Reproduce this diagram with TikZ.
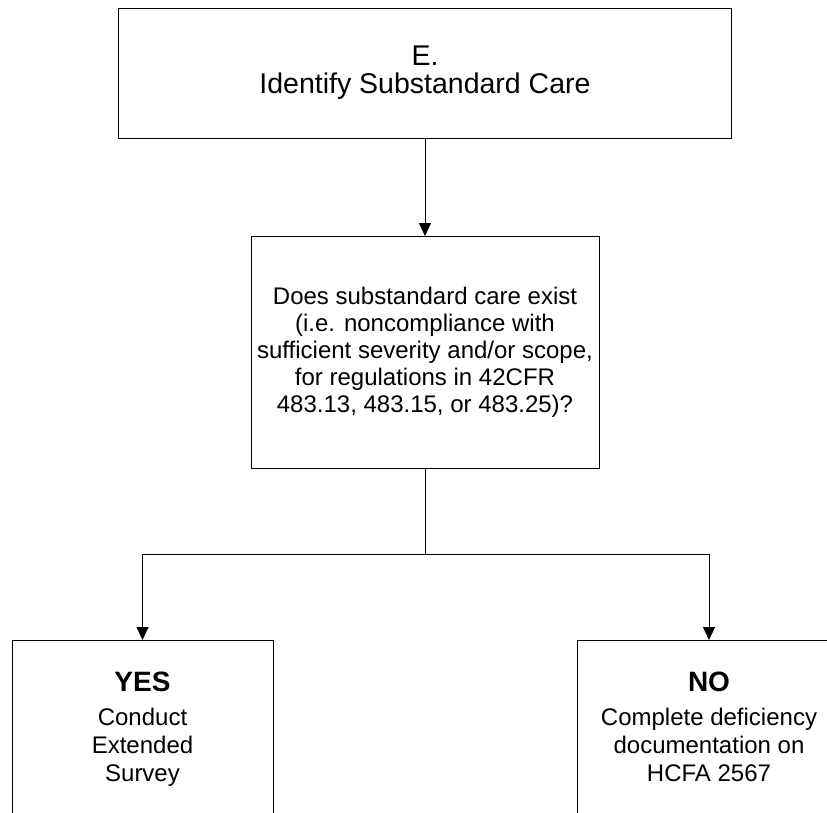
\documentclass[tikz,border=0pt]{standalone}
\usepackage{fontspec}
\setmainfont{Liberation Sans}
\usetikzlibrary{arrows.meta,positioning}

\begin{document}
\begin{tikzpicture}[x=1pt,y=1pt,
  block/.style={draw,rectangle,line width=1pt,outer sep=0pt,inner sep=0pt},
  answer/.style={inner sep=0pt,align=center,font=\fontsize{24}{28}\selectfont},
  flow/.style={line width=1pt,-{Triangle[length=13pt,width=12pt]}}]

        \useasboundingbox (0,0) rectangle (827,-812);
        \clip (0,0) rectangle (827,-812);

        \node[block,minimum width=613,minimum height=130,align=center,
              font=\fontsize{28.5}{28}\selectfont] (E) at (425,-73) {E.\\Identify Substandard Care};
        \node[block,minimum width=348,minimum height=232,align=center,
              font=\fontsize{24}{27}\selectfont,below=98 of E] (Q)
              {Does substandard care exist\\(i.e. noncompliance with\\sufficient severity and/or scope,\\for regulations in 42CFR\\483.13, 483.15, or 483.25)?};

        \coordinate[below=86 of Q] (split);

        \node[block,minimum width=261,minimum height=230,anchor=north] (Y) at (142.5,-640) {};
        \node[block,minimum width=264,minimum height=230,anchor=north] (N) at (709,-640) {};

        \node[answer,below=32 of Y.north] (Ytext) {{\fontsize{28}{28}\selectfont\bfseries YES}\\[6pt]Conduct\\Extended\\Survey};
        \node[answer,below=32 of N.north] (Ntext) {{\fontsize{28}{28}\selectfont\bfseries NO}\\[6pt]Complete deficiency\\documentation on\\HCFA 2567};

        \draw[flow] (E) -- (Q);
        \draw[line width=1pt] (Q) -- (split);
        \draw[flow] (split) -| (Y);
        \draw[flow] (split) -| (N);
      \end{tikzpicture}
\end{document}
